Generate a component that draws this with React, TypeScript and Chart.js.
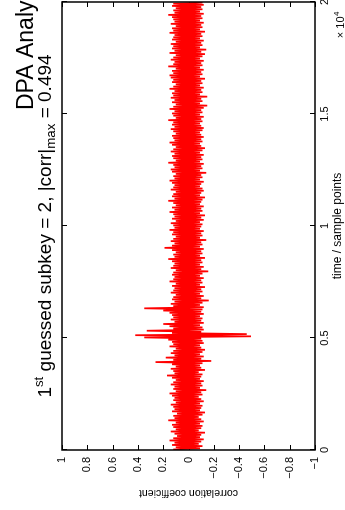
import React, { useEffect, useRef } from 'react';
import Chart from 'chart.js/auto';

// time axis (samples) and correlation axis ticks
const timeTicks = [0, 5000, 10000, 15000, 20000];
const corrTicks = [-1, -0.8, -0.6, -0.4, -0.2, 0, 0.2, 0.4, 0.6, 0.8, 1];

// samples per bin; the trace is drawn as the upper/lower extent of each bin
const binSize = 100;

// upper extent of the correlation trace per bin
const corrUpper = [
  0.12, 0.10, 0.13, 0.11, 0.15, 0.12, 0.09, 0.11, 0.14, 0.10,
  0.12, 0.13, 0.10, 0.16, 0.11, 0.12, 0.09, 0.13, 0.11, 0.12,
  0.14, 0.10, 0.12, 0.11, 0.13, 0.15, 0.10, 0.12, 0.11, 0.14,
  0.12, 0.10, 0.13, 0.17, 0.11, 0.12, 0.14, 0.10, 0.13, 0.26,
  0.12, 0.18, 0.11, 0.14, 0.12, 0.10, 0.15, 0.12, 0.13, 0.16,
  0.35, 0.42, 0.13, 0.33, 0.12, 0.15, 0.20, 0.11, 0.14, 0.12,
  0.13, 0.15, 0.20, 0.35, 0.12, 0.14, 0.11, 0.13, 0.12, 0.10,
  0.14, 0.12, 0.11, 0.13, 0.10, 0.15, 0.12, 0.11, 0.13, 0.12,
  0.10, 0.14, 0.12, 0.11, 0.13, 0.16, 0.11, 0.12, 0.10, 0.13,
  0.19, 0.13, 0.11, 0.14, 0.12, 0.10, 0.13, 0.12, 0.15, 0.11,
  0.12, 0.14, 0.10, 0.13, 0.11, 0.12, 0.15, 0.11, 0.13, 0.10,
  0.12, 0.16, 0.11, 0.13, 0.12, 0.10, 0.14, 0.12, 0.11, 0.13,
  0.15, 0.11, 0.12, 0.10, 0.13, 0.14, 0.11, 0.12, 0.16, 0.10,
  0.12, 0.13, 0.11, 0.14, 0.12, 0.10, 0.13, 0.15, 0.11, 0.12,
  0.13, 0.10, 0.12, 0.14, 0.11, 0.13, 0.12, 0.16, 0.10, 0.12,
  0.13, 0.11, 0.15, 0.12, 0.10, 0.13, 0.11, 0.14, 0.12, 0.13,
  0.11, 0.15, 0.12, 0.10, 0.13, 0.12, 0.14, 0.15, 0.12, 0.13,
  0.10, 0.16, 0.12, 0.11, 0.14, 0.12, 0.10, 0.15, 0.11, 0.13,
  0.12, 0.14, 0.10, 0.13, 0.12, 0.11, 0.15, 0.12, 0.13, 0.10,
  0.14, 0.11, 0.12, 0.13, 0.16, 0.11, 0.12, 0.10, 0.13, 0.12,
];

// lower extent of the correlation trace per bin
const corrLower = [
  -0.09, -0.11, -0.08, -0.10, -0.12, -0.09, -0.10, -0.13, -0.08, -0.10,
  -0.11, -0.09, -0.12, -0.10, -0.08, -0.11, -0.13, -0.09, -0.10, -0.11,
  -0.09, -0.12, -0.10, -0.08, -0.11, -0.10, -0.14, -0.09, -0.11, -0.10,
  -0.12, -0.09, -0.10, -0.11, -0.08, -0.13, -0.10, -0.09, -0.11, -0.18,
  -0.10, -0.12, -0.09, -0.11, -0.13, -0.10, -0.09, -0.12, -0.11, -0.10,
  -0.494, -0.46, -0.10, -0.12, -0.11, -0.09, -0.12, -0.10, -0.11, -0.09,
  -0.12, -0.10, -0.11, -0.12, -0.09, -0.11, -0.16, -0.10, -0.12, -0.09,
  -0.11, -0.10, -0.13, -0.09, -0.11, -0.10, -0.12, -0.09, -0.11, -0.156,
  -0.10, -0.12, -0.09, -0.11, -0.10, -0.13, -0.09, -0.11, -0.10, -0.12,
  -0.09, -0.11, -0.10, -0.14, -0.09, -0.11, -0.10, -0.12, -0.09, -0.10,
  -0.11, -0.09, -0.12, -0.10, -0.13, -0.09, -0.11, -0.10, -0.12, -0.09,
  -0.10, -0.11, -0.13, -0.09, -0.10, -0.12, -0.11, -0.09, -0.10, -0.12,
  -0.09, -0.11, -0.10, -0.14, -0.09, -0.11, -0.10, -0.12, -0.09, -0.11,
  -0.10, -0.12, -0.09, -0.11, -0.13, -0.10, -0.09, -0.11, -0.10, -0.12,
  -0.10, -0.09, -0.11, -0.12, -0.10, -0.09, -0.11, -0.10, -0.12, -0.09,
  -0.11, -0.10, -0.12, -0.148, -0.09, -0.11, -0.10, -0.148, -0.09, -0.11,
  -0.10, -0.12, -0.09, -0.11, -0.10, -0.13, -0.09, -0.11, -0.10, -0.12,
  -0.09, -0.11, -0.10, -0.12, -0.09, -0.11, -0.13, -0.10, -0.14, -0.09,
  -0.11, -0.10, -0.12, -0.09, -0.11, -0.10, -0.13, -0.09, -0.11, -0.10,
  -0.12, -0.09, -0.11, -0.10, -0.12, -0.09, -0.11, -0.10, -0.12, -0.11,
];

const titleMain = 'DPA Analysis';
const subkeyGuess = 2;
const corrMax = 0.494;

const FONT = '"Liberation Sans", Arial, Helvetica, sans-serif';

function fmtNum(v: number): string {
  const r = Math.round(v * 10) / 10;
  if (r === 0) return '0';
  return (r < 0 ? '\u2212' : '') + String(Math.abs(r));
}

export default function App() {
  const ref = useRef<HTMLCanvasElement>(null);

  useEffect(() => {
    document.body.style.margin = '0';
    const canvas = ref.current;
    if (!canvas) return;

    const points: { x: number; y: number }[] = [];
    corrUpper.forEach((u, i) => {
      points.push({ x: i * binSize + binSize * 0.25, y: u });
      points.push({ x: i * binSize + binSize * 0.75, y: corrLower[i] });
    });

    const matlabPlugin = {
      id: 'matlabAxes',
      beforeDatasetsDraw(chart: any) {
        const { ctx, chartArea: a, scales } = chart;
        const tl = 5;
        ctx.save();
        ctx.strokeStyle = '#000';
        ctx.lineWidth = 1;
        ctx.beginPath();
        for (const t of timeTicks) {
          const x = Math.round(scales.x.getPixelForValue(t)) + 0.5;
          ctx.moveTo(x, a.bottom);
          ctx.lineTo(x, a.bottom - tl);
          ctx.moveTo(x, a.top);
          ctx.lineTo(x, a.top + tl);
        }
        for (const t of corrTicks) {
          const y = Math.round(scales.y.getPixelForValue(t)) + 0.5;
          ctx.moveTo(a.left, y);
          ctx.lineTo(a.left + tl, y);
          ctx.moveTo(a.right, y);
          ctx.lineTo(a.right - tl, y);
        }
        ctx.stroke();
        ctx.restore();
      },
      afterDatasetsDraw(chart: any) {
        const { ctx, chartArea: a } = chart;
        ctx.save();
        ctx.strokeStyle = '#000';
        ctx.lineWidth = 1.5;
        ctx.strokeRect(Math.round(a.left), Math.round(a.top), Math.round(a.right - a.left), Math.round(a.bottom - a.top));
        ctx.restore();
      },
      afterDraw(chart: any) {
        const { ctx, chartArea: a, width, height } = chart;
        ctx.save();
        ctx.fillStyle = '#000';
        ctx.textBaseline = 'alphabetic';
        ctx.textAlign = 'left';

        // main (cut-off) title
        ctx.font = `23px ${FONT}`;
        ctx.fillText(titleMain, 400, 33);

        // subtitle with super/subscripts
        const fs = 19;
        const parts = [
          { t: '1', s: 1, dy: 0 },
          { t: 'st', s: 0.7, dy: -0.42 },
          { t: ` guessed subkey = ${subkeyGuess}, |corr|`, s: 1, dy: 0 },
          { t: 'max', s: 0.7, dy: 0.25 },
          { t: ` = ${corrMax}`, s: 1, dy: 0 },
        ];
        let total = 0;
        const widths = parts.map((p) => {
          ctx.font = `${fs * p.s}px ${FONT}`;
          const w = ctx.measureText(p.t).width;
          total += w;
          return w;
        });
        let x = (a.left + a.right) / 2 - total / 2;
        const base = 50.5;
        parts.forEach((p, i) => {
          ctx.font = `${fs * p.s}px ${FONT}`;
          ctx.fillText(p.t, x, base + p.dy * fs);
          x += widths[i];
        });

        // exponent label of time axis
        ctx.font = `8px ${FONT}`;
        const supW = ctx.measureText('4').width;
        ctx.font = `11px ${FONT}`;
        const mainW = ctx.measureText('\u00d7 10').width;
        const ex = width - 12 - supW - mainW;
        const ey = height - 1;
        ctx.fillText('\u00d7 10', ex, ey);
        ctx.font = `8px ${FONT}`;
        ctx.fillText('4', ex + mainW + 0.5, ey - 5);
        ctx.restore();
      },
    };

    const chart = new Chart(canvas, {
      type: 'line',
      data: {
        datasets: [
          {
            data: points,
            borderColor: '#ff0000',
            borderWidth: 1.7,
            borderJoinStyle: 'bevel',
            pointRadius: 0,
            tension: 0,
            fill: false,
          },
        ],
      },
      options: {
        animation: false,
        responsive: false,
        devicePixelRatio: 1,
        events: [],
        layout: { padding: { top: 62, right: 2, left: 0, bottom: 0 } },
        plugins: { legend: { display: false }, tooltip: { enabled: false }, title: { display: false } },
        scales: {
          x: {
            type: 'linear',
            min: 0,
            max: 20000,
            position: 'bottom',
            grid: { display: false, drawTicks: false },
            border: { display: false },
            ticks: {
              stepSize: 5000,
              autoSkip: false,
              maxRotation: 0,
              padding: 3,
              color: '#000',
              font: { size: 11, family: FONT },
              callback: (v: any) => fmtNum(Number(v) / 10000),
            },
            title: {
              display: true,
              text: 'time / sample points',
              color: '#000',
              font: { size: 12, family: FONT },
              padding: { top: 0, bottom: 0 },
            },
            afterFit: (s: any) => {
              s.height = 30;
              s.paddingLeft = 0;
              s.paddingRight = 0;
            },
          },
          y: {
            type: 'linear',
            min: -1,
            max: 1,
            grid: { display: false, drawTicks: false },
            border: { display: false },
            ticks: {
              stepSize: 0.2,
              autoSkip: false,
              padding: 7,
              color: '#000',
              font: { size: 11, family: FONT },
              callback: (v: any) => fmtNum(Number(v)),
            },
            title: {
              display: true,
              text: 'correlation coefficient',
              color: '#000',
              font: { size: 10.5, family: FONT },
              padding: { top: 11, bottom: 0 },
            },
            afterFit: (s: any) => {
              s.width = 60;
              s.paddingTop = 0;
              s.paddingBottom = 0;
            },
          },
        },
      } as any,
      plugins: [matlabPlugin],
    });

    return () => chart.destroy();
  }, []);

  return (
    <div style={{ position: 'relative', width: 345, height: 510, overflow: 'hidden', background: '#fff' }}>
      <div
        style={{
          position: 'absolute',
          left: 0,
          top: 0,
          width: 510,
          height: 345,
          transformOrigin: '0 0',
          transform: 'translate(0px, 510px) rotate(-90deg)',
        }}
      >
        <canvas ref={ref} width={510} height={345} style={{ display: 'block', width: 510, height: 345 }} />
      </div>
    </div>
  );
}
